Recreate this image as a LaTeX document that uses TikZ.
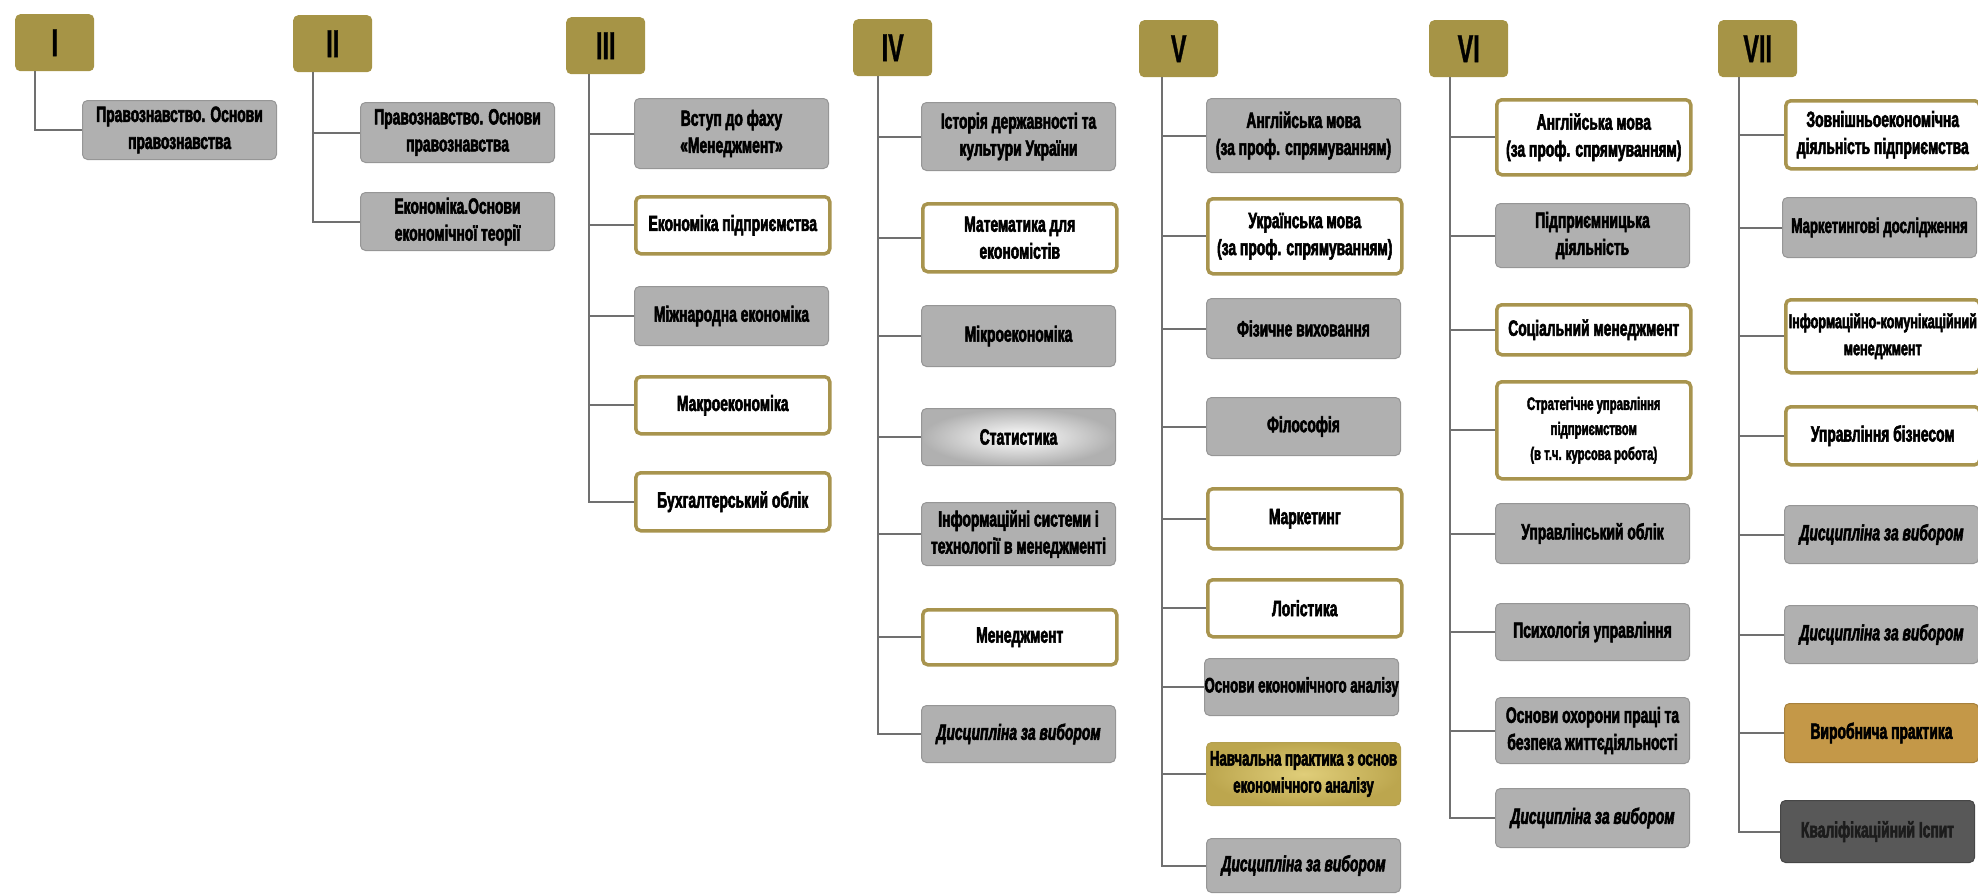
\documentclass[tikz,border=0pt]{standalone}
\usepackage{fontspec}
\setmainfont{Liberation Sans}[FakeStretch=0.63, BoldFeatures={FakeBold=2.5}, BoldItalicFeatures={FakeBold=2.5}]
\newfontfamily\romfont{Liberation Sans}[FakeStretch=0.6, BoldFeatures={FakeBold=0.8}]
\definecolor{hdrcol}{RGB}{166,148,70}
\definecolor{boxgray}{RGB}{176,176,176}
\definecolor{boxgrayd}{RGB}{150,150,150}
\definecolor{goldline}{RGB}{168,148,78}
\definecolor{conncol}{RGB}{112,112,112}
\definecolor{ochre}{RGB}{196,152,72}
\definecolor{darkbox}{RGB}{88,88,88}
\tikzset{
  box/.style={rectangle, rounded corners=5pt, minimum width=194, inner sep=0pt,
    align=center, text=black, font=\bfseries\fontsize{22}{27}\selectfont},
  gbox/.style={box, fill=boxgray, draw=boxgrayd, line width=1pt},
  wbox/.style={box, fill=white, draw=goldline, line width=3.5pt},
  statbox/.style={box, inner color=white, outer color=boxgray, draw=boxgrayd, line width=1pt},
  goldbox/.style={box, inner color={rgb,255:red,224;green,206;blue,122}, outer color={rgb,255:red,188;green,166;blue,78}, draw={rgb,255:red,180;green,160;blue,80}, line width=1pt},
  ochrebox/.style={box, fill=ochre, draw=ochre!85!black, line width=1pt},
  darkbx/.style={box, fill=darkbox, draw=darkbox!80!black, line width=1pt, text={rgb,255:red,28;green,28;blue,28}},
  ital/.style={font=\bfseries\itshape\fontsize{22}{27}\selectfont},
  small/.style={font=\bfseries\fontsize{18}{25}\selectfont},
  fit19/.style={font=\bfseries\fontsize{20}{27}\selectfont},
  fit20/.style={font=\bfseries\fontsize{21}{27}\selectfont},
  hdr/.style={rectangle, rounded corners=5pt, fill=hdrcol, minimum width=79, minimum height=57,
    inner sep=0pt, anchor=north west, font=\romfont\bfseries\fontsize{39}{39}\selectfont},
  conn/.style={draw=conncol, line width=2pt}
}
\newcommand\bx[6]{\node[#1, anchor=north west, minimum height=#5] (#2) at (#3,#4) {#6};}
\begin{document}
\begin{tikzpicture}[x=1pt,y=-1pt]
\useasboundingbox (0,0) rectangle (1978,894);
% headers
\node[hdr] (h1) at (15,14) {I};
\node[hdr] (h2) at (293,15) {II};
\node[hdr] (h3) at (566,17) {III};
\node[hdr] (h4) at (853,19) {IV};
\node[hdr] (h5) at (1139,20) {V};
\node[hdr] (h6) at (1429,20) {VI};
\node[hdr] (h7) at (1718,20) {VII};
% I
\bx{gbox}{b11}{82}{100}{59}{Правознавство. Основи\\правознавства}
% II
\bx{gbox}{b21}{360}{102}{60}{Правознавство. Основи\\правознавства}
\bx{gbox}{b22}{360}{192}{58}{Економіка.Основи\\економічної теорії}
% III
\bx{gbox}{b31}{634}{98}{70}{Вступ до фаху\\«Менеджмент»}
\bx{wbox}{b32}{634}{195}{57}{Економіка підприємства}
\bx{gbox}{b33}{634}{286}{59}{Міжнародна економіка}
\bx{wbox}{b34}{634}{375}{57}{Макроекономіка}
\bx{wbox}{b35}{634}{471}{58}{Бухгалтерський облік}
% IV
\bx{gbox}{b41}{921}{102}{68}{Історія державності та\\культури України}
\bx{wbox}{b42}{921}{202}{68}{Математика для\\економістів}
\bx{gbox}{b43}{921}{305}{61}{Мікроекономіка}
\bx{statbox}{b44}{921}{408}{57}{Статистика}
\bx{gbox}{b45}{921}{502}{63}{Інформаційні системи і\\технології в менеджменті}
\bx{wbox}{b46}{921}{608}{55}{Менеджмент}
\bx{gbox,ital}{b47}{921}{705}{57}{Дисципліна за вибором}
% V
\bx{gbox}{b51}{1206}{98}{74}{Англійська мова\\(за проф. спрямуванням)}
\bx{wbox}{b52}{1206}{197}{75}{Українська мова\\(за проф. спрямуванням)}
\bx{gbox}{b53}{1206}{298}{60}{Фізичне виховання}
\bx{gbox}{b54}{1206}{397}{58}{Філософія}
\bx{wbox}{b55}{1206}{487}{60}{Маркетинг}
\bx{wbox}{b56}{1206}{578}{57}{Логістика}
\bx{gbox,fit20}{b57}{1204}{658}{57}{Основи економічного аналізу}
\bx{goldbox,fit20}{b58}{1206}{742}{63}{Навчальна практика з основ\\економічного аналізу}
\bx{gbox,ital}{b59}{1206}{838}{54}{Дисципліна за вибором}
% VI
\bx{wbox}{b61}{1495}{98}{75}{Англійська мова\\(за проф. спрямуванням)}
\bx{gbox}{b62}{1495}{203}{64}{Підприємницька\\діяльність}
\bx{wbox}{b63}{1495}{303}{50}{Соціальний менеджмент}
\bx{wbox,small}{b64}{1495}{380}{97}{Стратегічне управління\\підприємством\\(в т.ч. курсова робота)}
\bx{gbox}{b65}{1495}{503}{60}{Управлінський облік}
\bx{gbox}{b66}{1495}{603}{57}{Психологія управління}
\bx{gbox}{b67}{1495}{697}{66}{Основи охорони праці та\\безпека життєдіяльності}
\bx{gbox,ital}{b68}{1495}{788}{59}{Дисципліна за вибором}
% VII
\bx{wbox}{b71}{1784}{99}{68}{Зовнішньоекономічна\\діяльність підприємства}
\bx{gbox,fit20}{b72}{1782}{197}{60}{Маркетингові дослідження}
\bx{wbox,fit19}{b73}{1784}{298}{73}{Інформаційно-комунікаційний\\менеджмент}
\bx{wbox}{b74}{1784}{405}{58}{Управління бізнесом}
\bx{gbox,ital}{b75}{1784}{505}{58}{Дисципліна за вибором}
\bx{gbox,ital}{b76}{1784}{605}{58}{Дисципліна за вибором}
\bx{ochrebox}{b77}{1784}{703}{59}{Виробнича практика}
\bx{darkbx}{b78}{1780}{800}{62}{Кваліфікаційний Іспит}
% connectors
\draw[conn] ([xshift=20pt]h1.south west) |- (b11.west);
\foreach \b in {b21,b22}{\draw[conn] ([xshift=20pt]h2.south west) |- (\b.west);}
\foreach \b in {b31,b32,b33,b34,b35}{\draw[conn] ([xshift=23pt]h3.south west) |- (\b.west);}
\foreach \b in {b41,b42,b43,b44,b45,b46,b47}{\draw[conn] ([xshift=25pt]h4.south west) |- (\b.west);}
\foreach \b in {b51,b52,b53,b54,b55,b56,b57,b58,b59}{\draw[conn] ([xshift=23pt]h5.south west) |- (\b.west);}
\foreach \b in {b61,b62,b63,b64,b65,b66,b67,b68}{\draw[conn] ([xshift=21pt]h6.south west) |- (\b.west);}
\foreach \b in {b71,b72,b73,b74,b75,b76,b77,b78}{\draw[conn] ([xshift=21pt]h7.south west) |- (\b.west);}
\end{tikzpicture}
\end{document}
